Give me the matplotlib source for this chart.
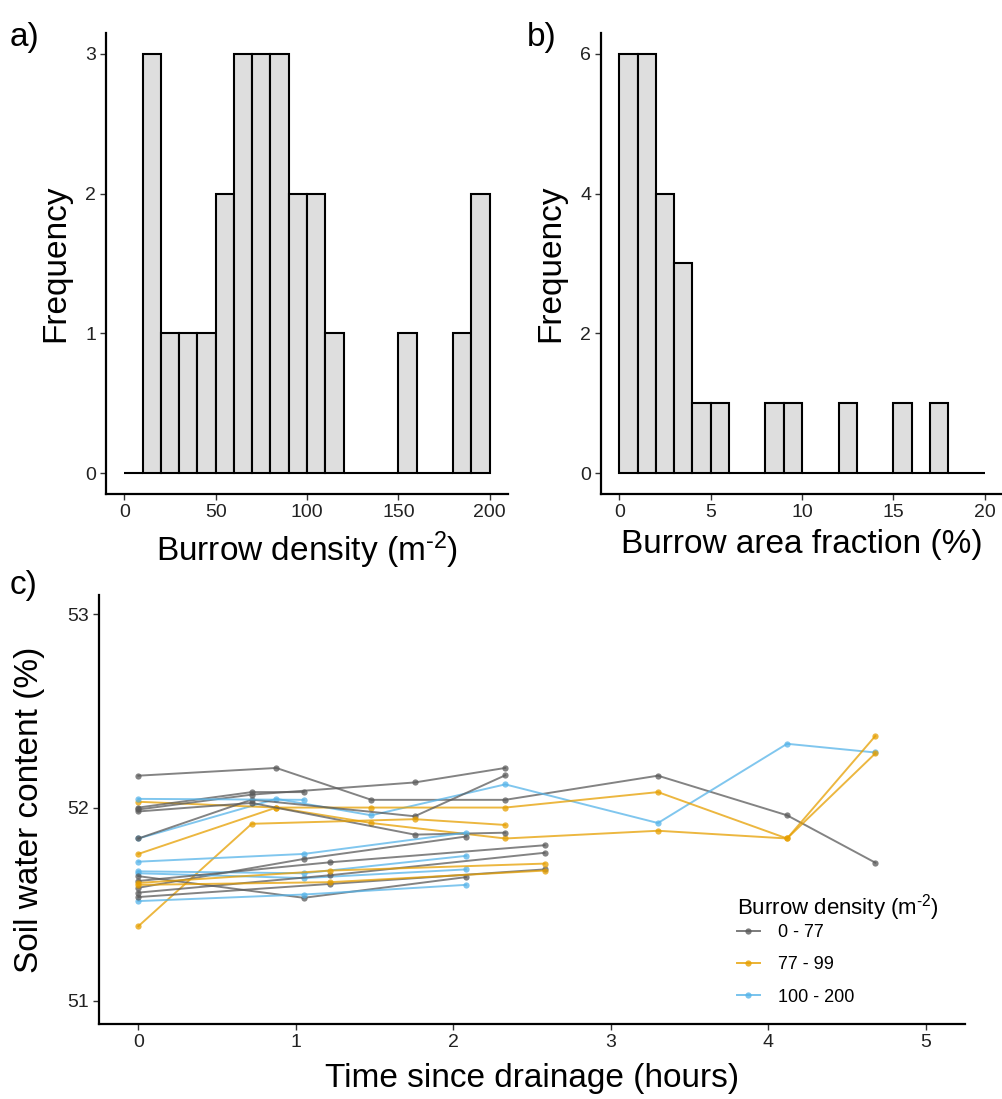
import numpy as np
import matplotlib
matplotlib.use('Agg')
import matplotlib.pyplot as plt

plt.rcParams['font.family'] = ['Liberation Sans', 'DejaVu Sans']
plt.rcParams['mathtext.fontset'] = 'custom'
plt.rcParams['mathtext.rm'] = 'Liberation Sans'
plt.rcParams['mathtext.default'] = 'regular'

# panel a: burrow density histogram (bin width 10)
dens_edges = np.arange(0, 201, 10)
dens_counts = [0, 3, 1, 1, 1, 2, 3, 3, 3, 2, 2, 1, 0, 0, 0, 1, 0, 0, 1, 2]

# panel b: burrow area fraction histogram (bin width 1)
frac_edges = np.arange(0, 21, 1)
frac_counts = [6, 6, 4, 3, 1, 1, 0, 0, 1, 1, 0, 0, 1, 0, 0, 1, 0, 1, 0, 0]

# panel c: soil water content vs time since drainage
classes = ['0 - 77', '77 - 99', '100 - 200']
class_colors = {'0 - 77': '#5a5a5a', '77 - 99': '#E69F00', '100 - 200': '#56B4E9'}

t_long = [0, 0.876, 1.48, 2.33, 3.30, 4.12, 4.68]
t_mid = [0, 0.72, 1.755, 2.33]
t_short = [0, 1.05, 2.08]
t_late = [0, 1.22, 2.58]

swc_series = [
    ('0 - 77', t_long, [52.165, 52.205, 52.04, 52.04, 52.165, 51.96, 51.715]),
    ('100 - 200', t_long, [51.84, 52.045, 51.96, 52.12, 51.92, 52.33, 52.285]),
    ('77 - 99', t_long, [52.03, 52.0, 52.0, 52.0, 52.08, 51.84, 52.37]),
    ('77 - 99', t_long, [51.76, 52.0, 51.92, 51.84, 51.88, 51.84, 52.28]),
    ('0 - 77', t_mid, [51.99, 52.067, 52.13, 52.205]),
    ('0 - 77', t_mid, [51.84, 52.041, 51.955, 52.167]),
    ('0 - 77', t_mid, [51.98, 52.024, 51.86, 51.87]),
    ('77 - 99', t_mid, [51.386, 51.916, 51.94, 51.91]),
    ('0 - 77', [0, 0.72, 1.05], [52.0, 52.08, 52.08]),
    ('100 - 200', [0, 1.05], [52.045, 52.04]),
    ('100 - 200', t_short, [51.72, 51.76, 51.87]),
    ('0 - 77', t_short, [51.585, 51.734, 51.85]),
    ('100 - 200', t_short, [51.67, 51.66, 51.75]),
    ('100 - 200', t_short, [51.66, 51.635, 51.68]),
    ('0 - 77', t_short, [51.645, 51.533, 51.64]),
    ('100 - 200', t_short, [51.516, 51.55, 51.60]),
    ('0 - 77', t_late, [51.62, 51.717, 51.805]),
    ('0 - 77', t_late, [51.56, 51.65, 51.766]),
    ('0 - 77', t_late, [51.537, 51.605, 51.68]),
    ('77 - 99', t_late, [51.61, 51.674, 51.71]),
    ('77 - 99', t_late, [51.60, 51.614, 51.674]),
]

W, H = 1002, 1099
fig = plt.figure(figsize=(W / 100, H / 100), dpi=100)


def px_axes(x0, y0, x1, y1):
    return fig.add_axes([x0 / W, 1 - y1 / H, (x1 - x0) / W, (y1 - y0) / H])


def classic(ax):
    for s in ['top', 'right']:
        ax.spines[s].set_visible(False)
    for s in ['left', 'bottom']:
        ax.spines[s].set_linewidth(1.6)
        ax.spines[s].set_color('black')
    ax.tick_params(axis='both', length=4, width=1.0, color='#333333',
                   labelsize=14, labelcolor='#222222', pad=3)


label_fs = 24
sup = r'$^{\text{-}2}$'

# ---- a)
ax_a = px_axes(106, 33, 508, 494)
ax_a.bar(dens_edges[:-1], dens_counts, width=10, align='edge',
         color='#DEDEDE', edgecolor='black', linewidth=1.5)
ax_a.set_xlim(-10, 210)
ax_a.set_ylim(-0.15, 3.15)
ax_a.set_xticks([0, 50, 100, 150, 200])
ax_a.set_yticks([0, 1, 2, 3])
classic(ax_a)
ax_a.set_xlabel('Burrow density (m' + sup + ')', fontsize=label_fs, labelpad=6)
ax_a.set_ylabel('Frequency', fontsize=label_fs, labelpad=10)

# ---- b)
ax_b = px_axes(601, 33, 1003, 494)
ax_b.bar(frac_edges[:-1], frac_counts, width=1, align='edge',
         color='#DEDEDE', edgecolor='black', linewidth=1.5)
ax_b.set_xlim(-1, 21)
ax_b.set_ylim(-0.3, 6.3)
ax_b.set_xticks([0, 5, 10, 15, 20])
ax_b.set_yticks([0, 2, 4, 6])
classic(ax_b)
ax_b.set_xlabel('Burrow area fraction (%)', fontsize=label_fs, labelpad=6)
ax_b.set_ylabel('Frequency', fontsize=label_fs, labelpad=10)

# ---- c)
ax_c = px_axes(99, 595, 965, 1024)
for cls, t, v in swc_series:
    ax_c.plot(t, v, color=class_colors[cls], lw=1.4, alpha=0.75,
              marker='o', markersize=4.5, markeredgewidth=0)
ax_c.set_xlim(-0.25, 5.25)
ax_c.set_ylim(50.88, 53.1)
ax_c.set_xticks([0, 1, 2, 3, 4, 5])
ax_c.set_yticks([51, 52, 53])
classic(ax_c)
ax_c.set_xlabel('Time since drainage (hours)', fontsize=label_fs, labelpad=9)
ax_c.set_ylabel('Soil water content (%)', fontsize=label_fs, labelpad=16)

handles = [plt.Line2D([], [], color=class_colors[c], lw=1.4, alpha=0.8,
                      marker='o', markersize=4.5, markeredgewidth=0)
           for c in classes]
leg = ax_c.legend(handles, classes, title='Burrow density (m' + sup + ')',
                  loc='upper left', bbox_to_anchor=(0.718, 0.345), frameon=False,
                  fontsize=13, title_fontsize=16, handlelength=1.25,
                  handletextpad=1.0, labelspacing=0.85, alignment='left')
# tighter gap between title and first entry
leg._legend_box.sep = 0.5

fig.text(10 / W, 1 - 22 / H, 'a)', fontsize=24, va='top', ha='left')
fig.text(527 / W, 1 - 22 / H, 'b)', fontsize=24, va='top', ha='left')
fig.text(10 / W, 1 - 570 / H, 'c)', fontsize=24, va='top', ha='left')

fig.savefig('out.png', dpi=100)
